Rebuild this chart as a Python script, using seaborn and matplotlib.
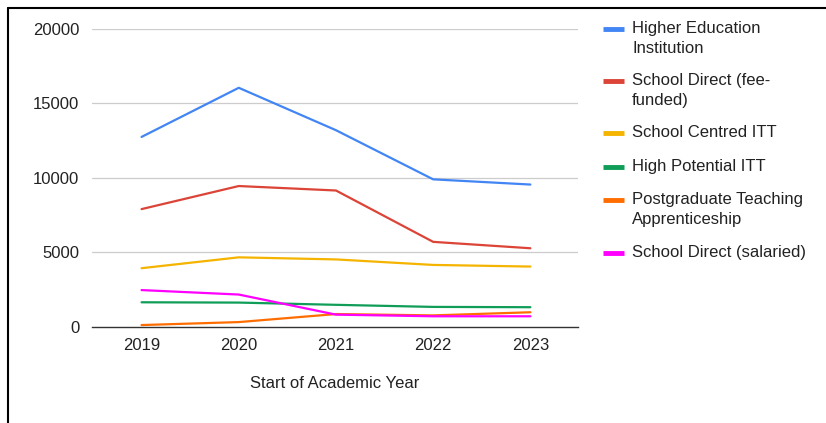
import matplotlib
matplotlib.use("Agg")
import matplotlib.pyplot as plt
from matplotlib.lines import Line2D
import seaborn as sns
import pandas as pd

years = [2019, 2020, 2021, 2022, 2023]
series_names = [
    "Higher Education Institution",
    "School Direct (fee-funded)",
    "School Centred ITT",
    "High Potential ITT",
    "Postgraduate Teaching Apprenticeship",
    "School Direct (salaried)",
]
legend_labels = [
    "Higher Education\nInstitution",
    "School Direct (fee-\nfunded)",
    "School Centred ITT",
    "High Potential ITT",
    "Postgraduate Teaching\nApprenticeship",
    "School Direct (salaried)",
]
hei = [12750, 16050, 13200, 9900, 9550]
sd_fee = [7900, 9450, 9150, 5700, 5270]
scitt = [3930, 4660, 4520, 4150, 4040]
hpitt = [1640, 1620, 1470, 1330, 1310]
pgta = [110, 310, 850, 760, 970]
sd_sal = [2460, 2160, 810, 700, 700]
y_ticks = [0, 5000, 10000, 15000, 20000]
x_label = "Start of Academic Year"

colors = ["#4285F4", "#DB4437", "#F4B400", "#0F9D58", "#FF6D01", "#FF00FF"]

values = [hei, sd_fee, scitt, hpitt, pgta, sd_sal]
rows = []
for name, vals in zip(series_names, values):
    for yr, v in zip(years, vals):
        rows.append({"year": yr, "value": v, "series": name})
df = pd.DataFrame(rows)

sns.set_theme(style="white")
plt.rcParams["font.family"] = ["Liberation Sans", "DejaVu Sans"]

FS = 12
TXT = "#222222"

fig = plt.figure(figsize=(8.26, 4.23), dpi=100)
ax = fig.add_axes([92 / 826, 1 - 326.7 / 423, (578 - 92) / 826, (326.7 - 29) / 423])

sns.lineplot(data=df, x="year", y="value", hue="series", hue_order=series_names,
             palette=colors, linewidth=1.6, ax=ax, legend=False, sort=False)

ax.set_xlim(2018.49, 2023.49)
ax.set_ylim(0, 20000)
ax.set_xticks(years)
ax.set_xticklabels([str(y) for y in years], fontsize=FS, color=TXT)
ax.set_yticks(y_ticks)
ax.set_yticklabels([str(t) for t in y_ticks], fontsize=FS, color=TXT)
ax.tick_params(axis="both", length=0)
ax.tick_params(axis="x", pad=8)
ax.tick_params(axis="y", pad=9)
for yv in y_ticks[1:]:
    ax.axhline(yv, color="#cccccc", linewidth=0.9, zorder=0)
for s in ["top", "right", "left"]:
    ax.spines[s].set_visible(False)
ax.spines["bottom"].set_color("#333333")
ax.spines["bottom"].set_linewidth(1.0)
ax.set_ylabel("")
ax.set_xlabel(x_label, fontsize=FS, color=TXT, labelpad=17)

# legend (manual)
entry_tops = [30, 82, 134, 168, 201, 254]
for lab, col, ty in zip(legend_labels, colors, entry_tops):
    yc = 1 - (ty - 1) / 423
    fig.add_artist(Line2D([603 / 826, 624 / 826], [yc, yc], color=col, linewidth=3.5,
                          transform=fig.transFigure, solid_capstyle="butt"))
    fig.text(632 / 826, 1 - (ty - 9) / 423, lab, fontsize=FS, color=TXT,
             va="top", ha="left", linespacing=1.45)

# border lines (top and left)
fig.add_artist(Line2D([8 / 826, 1], [1 - 8 / 423, 1 - 8 / 423], color="black",
                      linewidth=1.5, transform=fig.transFigure))
fig.add_artist(Line2D([8 / 826, 8 / 826], [0, 1 - 8 / 423], color="black",
                      linewidth=1.5, transform=fig.transFigure))

fig.savefig("out.png", dpi=100)
